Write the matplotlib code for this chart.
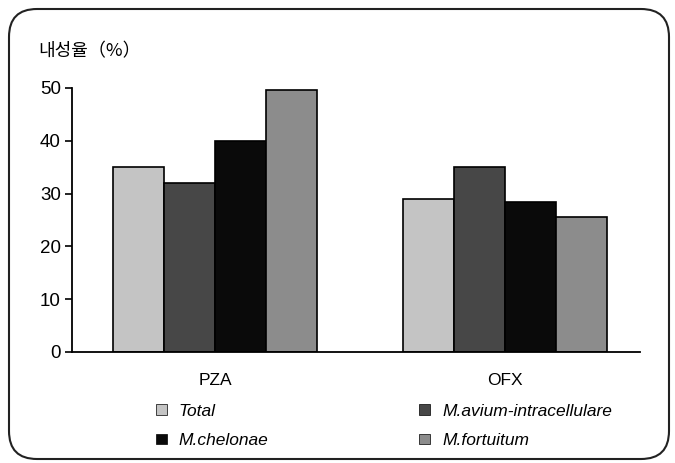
import numpy as np
import matplotlib.pyplot as plt
from matplotlib.patches import FancyBboxPatch

plt.rcParams['font.family'] = ['Liberation Sans', 'DejaVu Sans']

# data
drugs = ['PZA', 'OFX']
species = ['Total', 'M.avium-intracellulare', 'M.chelonae', 'M.fortuitum']
total = [35, 29]
avium = [32, 35]
chelonae = [40, 28.5]
fortuitum = [49.7, 25.5]
yticks = [0, 10, 20, 30, 40, 50]

series = [total, avium, chelonae, fortuitum]
colors = ['#c4c4c4', '#474747', '#0a0a0a', '#8c8c8c']

fig = plt.figure(figsize=(6.75, 4.63), dpi=100)
ax = fig.add_axes([72/675, 1 - 352/463, (640 - 72)/675, (352 - 88)/463])

x = np.arange(len(drugs))
w = 0.176
bars = []
for i, (vals, c) in enumerate(zip(series, colors)):
    b = ax.bar(x + (i - 1.5) * w, vals, width=w, color=c, edgecolor='black',
               linewidth=1.2, label=species[i])
    bars.append(b)

ax.set_xlim(-0.493, 1.466)
ax.set_ylim(0, 50)
ax.set_yticks(yticks)
ax.set_xticks(x)
ax.set_xticklabels(drugs, fontsize=12.5)
ax.tick_params(axis='x', length=0, pad=15)
ax.tick_params(axis='y', direction='out', length=5, width=1.2, labelsize=13.5, pad=3)
for s in ['top', 'right']:
    ax.spines[s].set_visible(False)
for s in ['left', 'bottom']:
    ax.spines[s].set_linewidth(1.3)

fig.text(38/675, 1 - 51/463, '내성율（%）', fontsize=13, va='center', ha='left',
         family=['Noto Sans CJK KR', 'DejaVu Sans'])

# legend: column-wise fill gives Total/M.chelonae | M.avium/M.fortuitum
order = [0, 2, 1, 3]
leg = fig.legend([bars[i] for i in order], [species[i] for i in order],
                 ncol=2, loc='upper left', bbox_to_anchor=(147/675, 1 - 395/463),
                 frameon=False, handlelength=0.63, handleheight=0.52, handletextpad=0.69,
                 columnspacing=8.7, labelspacing=0.84, borderpad=0,
                 prop={'style': 'italic', 'size': 12.5})
for h in leg.legend_handles:
    h.set_linewidth(0.5)

frame = FancyBboxPatch((0.09, 0.04), 6.6, 4.5, boxstyle='round,pad=0,rounding_size=0.28',
                       transform=fig.dpi_scale_trans, fill=False, edgecolor='#222222',
                       linewidth=1.5, clip_on=False)
fig.patches.append(frame)

fig.savefig('out.png', dpi=100)
